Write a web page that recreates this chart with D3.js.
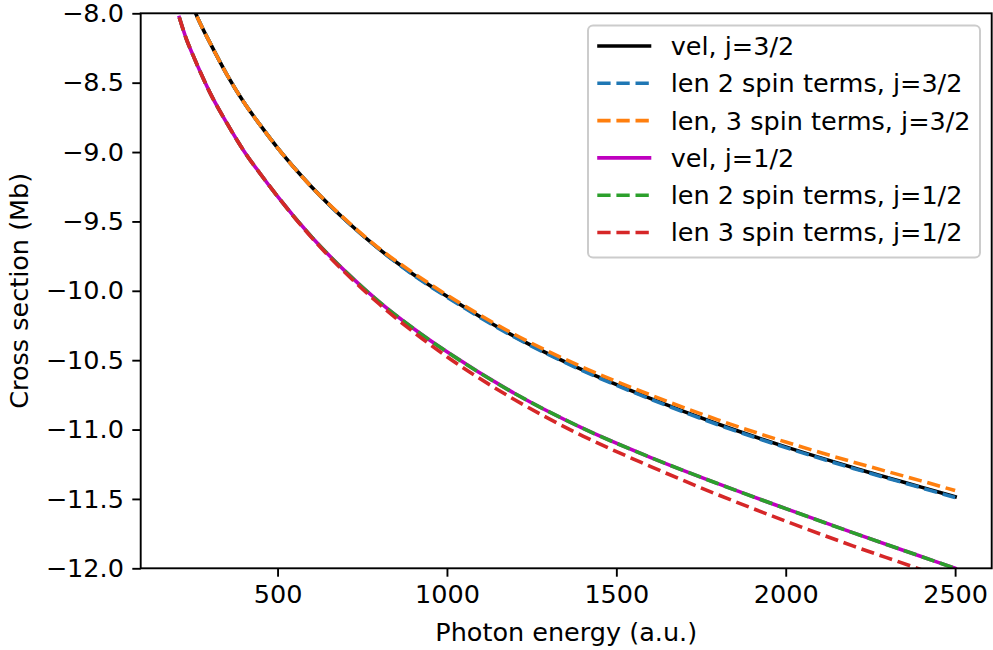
<!DOCTYPE html>
<html><head><meta charset="utf-8">
<script src="https://cdn.jsdelivr.net/npm/d3@7"></script>
<style>html,body{margin:0;padding:0;background:#fff;} text{font-family:"DejaVu Sans",sans-serif;}</style>
</head><body>
<svg id="chart" width="993" height="650"></svg>
<script>
const energy = [210,230,250,275,300,350,400,450,500,600,700,800,900,1000,1200,1400,1600,1800,2000,2200,2400,2500];
const velJ32   = [-7.63,-7.80,-7.95,-8.09,-8.21,-8.44,-8.64,-8.81,-8.97,-9.25,-9.49,-9.70,-9.88,-10.04,-10.33,-10.57,-10.775,-10.96,-11.125,-11.275,-11.415,-11.485];
const len2J32  = [-7.63,-7.80,-7.95,-8.09,-8.21,-8.44,-8.64,-8.81,-8.97,-9.25,-9.49,-9.70,-9.885,-10.045,-10.335,-10.575,-10.78,-10.965,-11.13,-11.28,-11.42,-11.49];
const len3J32  = [-7.63,-7.80,-7.95,-8.09,-8.21,-8.44,-8.64,-8.81,-8.97,-9.25,-9.485,-9.695,-9.87,-10.03,-10.315,-10.55,-10.75,-10.93,-11.09,-11.235,-11.37,-11.44];
const velJ12   = [-8.03,-8.18,-8.30,-8.44,-8.57,-8.79,-8.99,-9.16,-9.32,-9.61,-9.86,-10.08,-10.27,-10.44,-10.74,-10.99,-11.20,-11.39,-11.57,-11.745,-11.915,-12.00];
const len2J12  = [-8.03,-8.18,-8.30,-8.44,-8.57,-8.79,-8.99,-9.16,-9.32,-9.61,-9.86,-10.08,-10.27,-10.44,-10.74,-10.99,-11.20,-11.39,-11.57,-11.745,-11.915,-12.00];
const len3J12  = [-8.03,-8.18,-8.30,-8.44,-8.57,-8.79,-8.99,-9.16,-9.32,-9.615,-9.87,-10.095,-10.295,-10.475,-10.785,-11.045,-11.265,-11.47,-11.66,-11.84,-12.01,-12.10];
const seriesNames = ["vel, j=3/2","len 2 spin terms, j=3/2","len, 3 spin terms, j=3/2","vel, j=1/2","len 2 spin terms, j=1/2","len 3 spin terms, j=1/2"];
const seriesValues = [velJ32,len2J32,len3J32,velJ12,len2J12,len3J12];
const seriesColors = ["#000000","#1f77b4","#ff7f0e","#bf00bf","#2ca02c","#d62728"];
const seriesDashed = [false,true,true,false,true,true];
const xTicks = [500,1000,1500,2000,2500];
const yTicks = [-8.0,-8.5,-9.0,-9.5,-10.0,-10.5,-11.0,-11.5,-12.0];
const xLabel = "Photon energy (a.u.)";
const yLabel = "Cross section (Mb)";

const svg = d3.select("#chart");
const L = 140.7, R = 991.7, T = 13.3, B = 568.3;
const FS = 25.5;
const lw = 3.6;
const dash = "13.3,5.8";

const x = d3.scaleLinear().domain([96, 2608]).range([L, R]);
const y = d3.scaleLinear().domain([-12, -8]).range([B, T]);

svg.append("defs").append("clipPath").attr("id","clip")
  .append("rect").attr("x",L).attr("y",T).attr("width",R-L).attr("height",B-T);

const line = d3.line().x(d=>x(d[0])).y(d=>y(d[1])).curve(d3.curveMonotoneX);
const g = svg.append("g").attr("clip-path","url(#clip)");
seriesValues.forEach((vals,i)=>{
  g.append("path").datum(energy.map((e,k)=>[e,vals[k]]))
    .attr("d",line).attr("fill","none")
    .attr("stroke",seriesColors[i]).attr("stroke-width",lw)
    .attr("stroke-dasharray",seriesDashed[i]?dash:null)
    .attr("stroke-linecap", seriesDashed[i]?"butt":"square");
});

// axes
const xAxis = d3.axisBottom(x).tickValues(xTicks).tickFormat(d3.format("d")).tickSize(8.4).tickPadding(8.4);
const yAxis = d3.axisLeft(y).tickValues(yTicks).tickFormat(d3.format(".1f")).tickSize(8.4).tickPadding(8.4);
const gx = svg.append("g").attr("transform",`translate(0,${B})`).call(xAxis);
const gy = svg.append("g").attr("transform",`translate(${L},0)`).call(yAxis);
[gx,gy].forEach(a=>{
  a.select(".domain").remove();
  a.selectAll(".tick line").attr("stroke","#000").attr("stroke-width",1.9);
  a.selectAll(".tick text").attr("font-size",FS).attr("fill","#000").attr("font-family","DejaVu Sans");
});
// frame
svg.append("rect").attr("x",L).attr("y",T).attr("width",R-L).attr("height",B-T)
  .attr("fill","none").attr("stroke","#000").attr("stroke-width",1.9);

svg.append("text").attr("x",(L+R)/2).attr("y",641).attr("text-anchor","middle")
  .attr("font-size",FS).text(xLabel);
svg.append("text").attr("transform",`translate(28,${(T+B)/2}) rotate(-90)`).attr("text-anchor","middle")
  .attr("font-size",FS).text(yLabel);

// legend
const lg = svg.append("g");
lg.append("rect").attr("x",588).attr("y",25.5).attr("width",392).attr("height",232).attr("rx",5).attr("ry",5)
  .attr("fill","#fff").attr("fill-opacity",0.8).attr("stroke","#cccccc").attr("stroke-width",2);
seriesNames.forEach((name,i)=>{
  const cy = 46 + i*37.3;
  lg.append("line").attr("x1",seriesDashed[i]?597.3:599).attr("x2",seriesDashed[i]?651:649.5).attr("y1",cy).attr("y2",cy)
    .attr("stroke",seriesColors[i]).attr("stroke-width",lw)
    .attr("stroke-dasharray",seriesDashed[i]?dash:null)
    .attr("stroke-linecap",seriesDashed[i]?"butt":"square");
  lg.append("text").attr("x",670.7).attr("y",cy).attr("dy","0.35em").attr("font-size",FS).text(name);
});
</script>
</body></html>
